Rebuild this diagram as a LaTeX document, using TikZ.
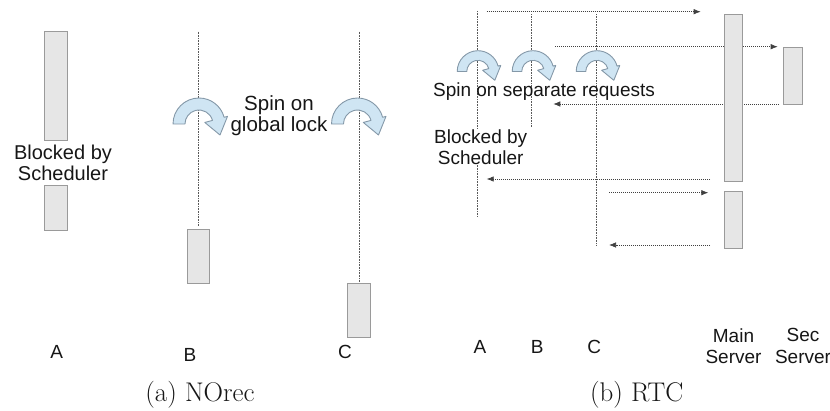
\documentclass[tikz,border=0pt]{standalone}
\usepackage{fontspec}
\newfontfamily\labelfont{Liberation Sans}
\usetikzlibrary{arrows.meta}

\definecolor{boxfill}{HTML}{E6E6E6}
\definecolor{boxline}{HTML}{9A9A9A}
\definecolor{spinfill}{HTML}{CFE5F3}
\definecolor{spinline}{HTML}{8498A8}
\definecolor{inkdark}{HTML}{161616}

\tikzset{
  actbox/.style={draw=boxline, fill=boxfill, line width=1pt, inner sep=0pt,
    minimum width=#1},
  actbox/.default=22.7pt,
  lifeline/.style={draw=black!65, line width=0.6pt, dash pattern=on 0.8pt off 0.8pt},
  msg/.style={draw=black!75, line width=0.7pt, dash pattern=on 1pt off 1pt,
    -{Latex[length=7pt,width=5.5pt]}},
  lbl/.style={font=\labelfont\fontsize{#1}{21.5}\selectfont, text=inkdark,
    align=center, inner sep=1pt},
  lbl/.default=19,
  capt/.style={font=\fontsize{27}{31}\selectfont, text=inkdark, inner sep=0pt},
  spin/.pic={
    \path[draw=spinline, fill=spinfill, line width=0.9pt, line join=round, yscale=-1]
      (-26,0) arc[start angle=180, end angle=15, radius=26]
      -- (28.5,7.6) -- (21,-11) -- (5.8,1.55) -- (13.5,3.6)
      arc[start angle=15, end angle=180, radius=14] -- cycle;
  }
}

\begin{document}
\begin{tikzpicture}[x=1pt, y=-1pt]
\useasboundingbox (0,0) rectangle (830,411);

% ---------------- (a) NOrec ----------------
\node[actbox, minimum height=109pt] (a1) at (56.3,86.2) {};
\node[actbox, minimum height=45pt]  (a2) at (56.3,208.2) {};
\node[lbl=20] (ablk) at (63,163) {Blocked by\\Scheduler};

\coordinate (btop) at (198.5,31.7);
\node[actbox, minimum height=54pt] (bbox) at (198.5,257) {};
\draw[lifeline] (btop) -- ([yshift=3pt]bbox.north);

\coordinate (ctop) at (359.2,31.7);
\node[actbox, minimum height=53.7pt] (cbox) at (359.2,310.8) {};
\draw[lifeline] (ctop) -- ([yshift=1pt]cbox.north);

\pic at (199,124) {spin};
\pic at (357.5,124) {spin};
\node[lbl=20.5] (glock) at (279,115.5) {Spin on\\global lock};

\node[lbl] (la) at (56.7,351.7) {A};
\node[lbl] (lb) at (190,355) {B};
\node[lbl] (lc) at (345,351.7) {C};
\node[capt] (capa) at (200,395) {(a) NOrec};

% ---------------- (b) RTC ----------------
% lifelines of the three clients
\coordinate (rAt) at (477.3,11);   \coordinate (rAb) at (477.3,216);
\coordinate (rBt) at (531.7,14.3); \coordinate (rBb) at (531.7,127.7);
\coordinate (rCt) at (596,14.3);   \coordinate (rCb) at (596,245.7);
\draw[lifeline] (rAt) -- (rAb);
\draw[lifeline] (rBt) -- (rBb);
\draw[lifeline] (rCt) -- (rCb);

% request / reply messages
\coordinate (m1s) at (486.7,11.7);  \coordinate (m1e) at (700.7,11.7);
\coordinate (m2s) at (555,46.7);    \coordinate (m2e) at (777.7,46.7);
\coordinate (m3s) at (779,104);     \coordinate (m3e) at (553.3,104);
\coordinate (m4s) at (710,179);     \coordinate (m4e) at (486.7,179);
\coordinate (m5s) at (609,192.7);   \coordinate (m5e) at (708.3,192.7);
\coordinate (m6s) at (710,245);     \coordinate (m6e) at (609,245);
\draw[msg] (m1s) -- (m1e);
\draw[msg] (m2s) -- (m2e);
\draw[msg] (m3s) -- (m3e);
\draw[msg] (m4s) -- (m4e);
\draw[msg] (m5s) -- (m5e);
\draw[msg] (m6s) -- (m6e);

% servers
\node[actbox=18.4pt, minimum height=166.7pt] (main1) at (733.5,97.7) {};
\node[actbox=18.4pt, minimum height=56.6pt]  (main2) at (733.5,220) {};
\node[actbox=19.4pt, minimum height=56.7pt]  (sec)   at (793,75.7) {};

\pic[scale=0.8] at (478,71.5) {spin};
\pic[scale=0.8] at (533,71.5) {spin};
\pic[scale=0.8] at (597,71.5) {spin};
\node[lbl=19] (sepreq) at (544,91.7) {Spin on separate requests};
\node[lbl=19, fill=white, inner sep=0.5pt] (rblk) at (480.7,147) {Blocked by\\Scheduler};

\node[lbl] (ra) at (480,346.7) {A};
\node[lbl] (rb) at (537.3,346.7) {B};
\node[lbl] (rc) at (594.3,346.7) {C};
\node[lbl=19] (lmain) at (733.5,346) {Main\\Server};
\node[lbl=19] (lsec) at (803,346) {Sec\\Server};
\node[capt] (capb) at (636.7,395) {(b) RTC};
\end{tikzpicture}
\end{document}
